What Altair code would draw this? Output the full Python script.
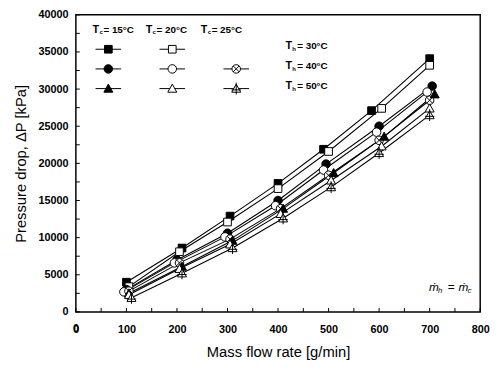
import altair as alt
import pandas as pd

# ---- data ----
series_names = ["Tc15_Th30", "Tc20_Th30", "Tc15_Th40", "Tc20_Th40", "Tc25_Th40",
                "Tc15_Th50", "Tc20_Th50", "Tc25_Th50"]
series_marker = ["sq_filled", "sq_open", "ci_filled", "ci_open", "ci_cross",
                 "tr_filled", "tr_open", "tr_cross"]

x_Tc15_Th30 = [100, 210, 305, 400, 490, 585, 700]
y_Tc15_Th30 = [4000, 8600, 12900, 17300, 21900, 27100, 34100]
x_Tc20_Th30 = [105, 205, 300, 400, 500, 605, 700]
y_Tc20_Th30 = [3400, 8100, 12100, 16600, 21600, 27400, 33200]
x_Tc15_Th40 = [100, 200, 300, 400, 495, 600, 705]
y_Tc15_Th40 = [3000, 7000, 10600, 15000, 19900, 25000, 30400]
x_Tc20_Th40 = [95, 195, 295, 395, 490, 595, 695]
y_Tc20_Th40 = [2700, 6600, 10100, 14300, 19100, 24200, 29600]
x_Tc25_Th40 = [105, 205, 305, 405, 500, 600, 700]
y_Tc25_Th40 = [2800, 6600, 9800, 13900, 18400, 23100, 28500]
x_Tc15_Th50 = [105, 210, 310, 410, 510, 610, 710]
y_Tc15_Th50 = [2500, 6100, 9600, 13900, 18700, 23600, 29300]
x_Tc20_Th50 = [105, 205, 305, 405, 505, 605, 700]
y_Tc20_Th50 = [2300, 5800, 9100, 13200, 17700, 22300, 27400]
x_Tc25_Th50 = [110, 210, 310, 410, 505, 600, 700]
y_Tc25_Th50 = [1900, 5200, 8600, 12600, 16800, 21400, 26500]

xs = [x_Tc15_Th30, x_Tc20_Th30, x_Tc15_Th40, x_Tc20_Th40, x_Tc25_Th40,
      x_Tc15_Th50, x_Tc20_Th50, x_Tc25_Th50]
ys = [y_Tc15_Th30, y_Tc20_Th30, y_Tc15_Th40, y_Tc20_Th40, y_Tc25_Th40,
      y_Tc15_Th50, y_Tc20_Th50, y_Tc25_Th50]

x_ticks = list(range(0, 801, 100))
y_ticks = list(range(0, 40001, 5000))
x_minor = list(range(0, 801, 50))
y_minor = list(range(0, 40001, 2500))

tc_labels = ["= 15°C", "= 20°C", "= 25°C"]
th_labels = ["= 30°C", "= 40°C", "= 50°C"]

# ---- build tables ----
rows = []
for name, mk, xv, yv in zip(series_names, series_marker, xs, ys):
    for a, b in zip(xv, yv):
        rows.append({"series": name, "marker": mk, "flow": a, "dp": b})
df = pd.DataFrame(rows)

marker_domain = ["sq_filled", "sq_open", "ci_filled", "ci_open", "ci_cross",
                 "tr_filled", "tr_open", "tr_cross"]
SQ = "M-0.9,-0.9H0.9V0.9H-0.9Z"
CI = "M-1,0A1,1,0,1,1,1,0A1,1,0,1,1,-1,0Z"
CIX = CI + "M-0.7,-0.7L0.7,0.7M-0.7,0.7L0.7,-0.7"
TR = "M0,-1.05L1.05,0.85L-1.05,0.85Z"
TRX = TR + "M0,-1.4L0,1.4M-1.1,0.3L1.1,0.3"
marker_shapes = [SQ, SQ, CI, CI, CIX, TR, TR, TRX]
marker_fills = ["black", "white", "black", "white", "white", "black", "white", "white"]

W, H = 411, 302
FONT = "Liberation Sans"

xscale = alt.Scale(domain=[0, 800], nice=False)
yscale = alt.Scale(domain=[0, 40000], nice=False)
x_axis = alt.Axis(values=x_ticks, title="Mass flow rate [g/min]", format="d",
                  labelOverlap=False, labelFlush=False, labelBound=False)
y_axis = alt.Axis(values=y_ticks, title="Pressure drop, ΔP [kPa]", format="d",
                  labelOverlap=False, labelFlush=False, labelBound=False)

base = alt.Chart(df)
lines = base.mark_line(color="black", strokeWidth=1.1).encode(
    x=alt.X("flow:Q", scale=xscale, axis=x_axis),
    y=alt.Y("dp:Q", scale=yscale, axis=y_axis),
    detail="series:N",
    order="flow:Q",
)
shape_enc = alt.Shape("marker:N", scale=alt.Scale(domain=marker_domain, range=marker_shapes), legend=None)
fill_enc = alt.Fill("marker:N", scale=alt.Scale(domain=marker_domain, range=marker_fills), legend=None)
points = base.mark_point(filled=True, stroke="black", strokeWidth=1, size=75, opacity=1).encode(
    x=alt.X("flow:Q", scale=xscale, axis=x_axis), y=alt.Y("dp:Q", scale=yscale, axis=y_axis),
    shape=shape_enc, fill=fill_enc,
)

# inward ticks
xt = pd.DataFrame({"v": x_minor})
xtick = alt.Chart(xt).mark_rule(color="black", strokeWidth=1).encode(
    x=alt.X("v:Q", scale=xscale, axis=x_axis), y=alt.value(H), y2=alt.value(H - 4))
yt = pd.DataFrame({"v": y_minor})
ytick = alt.Chart(yt).mark_rule(color="black", strokeWidth=1).encode(
    y=alt.Y("v:Q", scale=yscale, axis=y_axis), x=alt.value(0), x2=alt.value(4))

# x-axis zero label (drawn through the x scale)
zero_lbl = alt.Chart(pd.DataFrame({"v": [x_ticks[0]], "t": [str(x_ticks[0])]})).mark_text(
    align="center", baseline="middle", fontSize=11, font=FONT, fontWeight="bold", color="black",
).encode(x=alt.X("v:Q", scale=xscale, axis=x_axis), y=alt.value(H + 17), text="t:N")

# legend (pixel positions inside plot)
col_px = [33, 98, 163]
row_px = [35, 55, 75]
leg_rows = []
leg_map = [["sq_filled", "sq_open", None], ["ci_filled", "ci_open", "ci_cross"],
           ["tr_filled", "tr_open", "tr_cross"]]
for r, rowm in enumerate(leg_map):
    for c, m in enumerate(rowm):
        if m:
            leg_rows.append({"px": col_px[c], "py": row_px[r], "marker": m,
                             "x1": col_px[c] - 13, "x2": col_px[c] + 13})
ldf = pd.DataFrame(leg_rows)
leg_lines = alt.Chart(ldf).mark_rule(color="black", strokeWidth=1).encode(
    x=alt.X("x1:Q", scale=None), x2="x2:Q", y=alt.Y("py:Q", scale=None))
leg_pts = alt.Chart(ldf).mark_point(filled=True, stroke="black", strokeWidth=1, size=75, opacity=1).encode(
    x=alt.X("px:Q", scale=None), y=alt.Y("py:Q", scale=None), shape=shape_enc, fill=fill_enc)

texts = []
def txt(s, x, y, size=10, bold=True, italic=False):
    return alt.Chart(pd.DataFrame({"t": [s]})).mark_text(
        align="left", baseline="middle", fontSize=size, font=FONT,
        fontWeight="bold" if bold else "normal", fontStyle="italic" if italic else "normal",
        color="black").encode(text="t:N", x=alt.value(x), y=alt.value(y))

hdr_x = [17, 71, 127]
for hx, lab in zip(hdr_x, tc_labels):
    texts += [txt("T", hx, 15, 11), txt("c", hx + 7, 18, 6), txt(lab, hx + 11, 15, 10)]
for ry, lab in zip(row_px, th_labels):
    texts += [txt("T", 213, ry - 3, 11), txt("h", 220, ry, 6), txt(lab, 225, ry - 3, 10)]
texts += [txt("ṁ", 359, 277, 12, bold=False, italic=True), txt("h", 368, 281, 8, bold=False, italic=True),
          txt("=", 378, 277, 12, bold=False), txt("ṁ", 389, 277, 12, bold=False, italic=True),
          txt("c", 398, 281, 8, bold=False, italic=True)]

chart = alt.layer(lines, points, xtick, ytick, zero_lbl, leg_lines, leg_pts, *texts).properties(
    width=W, height=H,
    autosize=alt.AutoSizeParams(type="none"),
    padding={"left": 69, "top": 4, "right": 12, "bottom": 48},
).configure_view(stroke="black", strokeWidth=1.5).configure_axis(
    ticks=False, grid=False, domain=False, labelOverlap=False,
    labelFont=FONT, labelFontWeight="bold", labelFontSize=11, labelColor="black",
    titleFont=FONT, titleFontWeight="normal", titleFontSize=15, titleColor="black",
).configure_axisX(labelPadding=12, titlePadding=10).configure_axisY(labelPadding=8, titlePadding=10)

chart.save("out.html", embed_options={"renderer": "svg", "actions": False})
